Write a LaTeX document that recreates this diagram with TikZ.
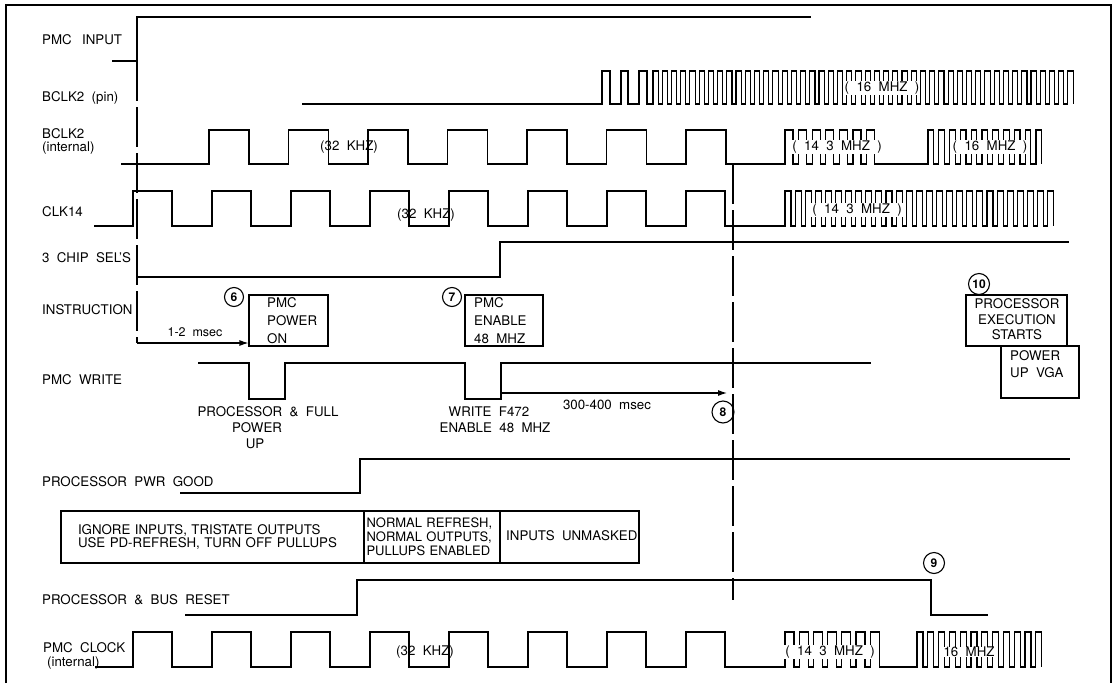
\documentclass[tikz,border=0pt]{standalone}
\usepackage{fontspec}
\setmainfont{TeX Gyre Heros}[WordSpace=2]
\usetikzlibrary{arrows.meta}
\newcommand{\pulsetrain}[6]{\foreach \k in {1,...,#3}{ -- ({#1+(\k-1)*#2},#5) -- ({#1+(\k-1)*#2},#6) -- ({#1+(\k-1)*#2+#4},#6) -- ({#1+(\k-1)*#2+#4},#5)}}
\begin{document}
\begin{tikzpicture}[x=1pt,y=-1pt,
  every node/.style={font=\fontsize{13.3}{14}\selectfont, inner sep=0pt},
  sig/.style={line width=1.1pt, line join=miter},
  frame/.style={line width=1.3pt},
  dashv/.style={line width=1.1pt, dash pattern=on 40pt off 6pt},
  lbl/.style={anchor=west},
  ptxt/.style={fill=white, inner xsep=1pt, inner ysep=0.5pt},
  num/.style={circle, draw, line width=1.1pt, minimum size=19pt, font=\fontsize{12}{12}\selectfont\bfseries},
  box/.style={draw, line width=1.1pt},
  arr/.style={line width=1.1pt, -{Latex[length=9pt,width=6pt]}}]
\useasboundingbox (0,0) rectangle (1116,683);
\fill[white] (0,0) rectangle (1116,683);
% frame
\draw[frame] (6,683) -- (6,5) -- (1111,5) -- (1111,683);

% labels
\node[lbl] (lPI) at (42,40) {PMC\hspace{3pt} INPUT};
\node[lbl] (lBP) at (42,98) {BCLK2 (pin)};
\node[lbl, align=left, font=\fontsize{13.3}{13}\selectfont] (lBI) at (42,141) {BCLK2\\(internal)};
\node[lbl] (lCK) at (42,212) {CLK14};
\node[lbl] (lCS) at (42,258) {3 CHIP SEL'S};
\node[lbl] (lIN) at (42,310) {INSTRUCTION};
\node[lbl] (lPW) at (42,380) {PMC WRITE};
\node[lbl] (lPG) at (42,482) {PROCESSOR PWR GOOD};
\node[lbl] (lBR) at (42,600) {PROCESSOR \& BUS RESET};
\node[lbl] (lPC) at (43,648) {PMC CLOCK};
\node[lbl] (lPCi) at (47,663) {(internal)};

% PMC INPUT
\draw[sig] (112,61) -- (137,61) -- (137,17) -- (811,17);
\coordinate (d1a) at (137,61);
\coordinate (d1b) at (137,343);
\draw[dashv] (d1a) -- (d1b);

% BCLK2 pin
\draw[sig] (302,104) -- (602,104) -- (602,71) -- (610,71) -- (610,104) -- (621,104) -- (621,71) -- (628,71) -- (628,104) -- (639,104) -- (639,71) -- (647,71) -- (647,104)
  \pulsetrain{653}{9.22}{46}{5.2}{104}{71};
\node[ptxt] (t16a) at (882,88) {( 16 MHZ )};

% BCLK2 internal
\draw[sig] (121,164) \pulsetrain{209}{79.5}{7}{40}{164}{130} -- (785,164)
  \pulsetrain{785}{13.6}{7}{8}{164}{130} -- (928,164)
  \pulsetrain{928}{10.8}{11}{5.6}{164}{130};
\node (t32a) at (349,147) {(32 KHZ)};
\node[ptxt] (t14a) at (837,147) {( 14 3 MHZ )};
\node[ptxt] (t16b) at (990,147) {( 16 MHZ )};

% CLK14
\draw[sig] (94,226) \pulsetrain{133}{79}{8}{39}{226}{191} -- (785,226)
  \pulsetrain{785}{10.1}{27}{6}{226}{191};
\node (t32b) at (426,215) {(32 KHZ)};
\node[ptxt] (t14b) at (857,210) {( 14 3 MHZ )};

% 3 CHIP SEL'S
\draw[sig] (137,277) -- (500,277) -- (500,242) -- (1069,242);

% second dashed line
\coordinate (d2a) at (733,164);
\coordinate (d2b) at (733,600);
\draw[dashv] (d2a) -- (d2b);

% INSTRUCTION boxes
\node[num] (n6) at (234,297) {6};
\node[box, minimum width=79pt, minimum height=51pt] (b6) at (288.5,320.5) {};
\node[anchor=west, align=left, font=\fontsize{13.3}{18}\selectfont] (b6t) at (267,321) {PMC\\POWER\\ON};
\node[num] (n7) at (452,297) {7};
\node[box, minimum width=78pt, minimum height=51pt] (b7) at (504,320.5) {};
\node[anchor=west, align=left, font=\fontsize{13.3}{18}\selectfont] (b7t) at (474,321) {PMC\\ENABLE\\48 MHZ};
\node[num, minimum size=21pt] (n10) at (979,284) {10};
\node[box, minimum width=101pt, minimum height=51pt] (b10) at (1016.5,320.5) {};
\node[align=center, font=\fontsize{13.3}{16}\selectfont] (b10t) at (1017,319) {PROCESSOR\\EXECUTION\\[-1.5pt]STARTS};
\node[box, minimum width=78pt, minimum height=52pt] (bvga) at (1040,372) {};
\node[anchor=north west, align=left, font=\fontsize{13.3}{17}\selectfont] (bvgat) at (1010,350) {POWER\\UP VGA};

% 1-2 msec
\draw[arr] (d1b) -- (d1b -| b6.west);
\node[font=\fontsize{12.5}{12}\selectfont] (t12) at (195,332) {1-2 msec};

% PMC WRITE
\draw[sig] (198,363) -- (249,363) -- (249,399) -- (285,399) -- (285,363) -- (465,363) -- (465,399) -- (501,399) -- (501,363) -- (871,363);
\coordinate (a2s) at (501,393);
\coordinate (a2e) at (727,393);
\draw[arr] (a2s) -- (a2e);
\node (t300) at (607,405) {300-400 msec};
\node[num, minimum size=22pt] (n8) at (723,412) {8};
\node (tpf1) at (268,412) {PROCESSOR \& FULL};
\node (tpf2) at (257,428) {POWER};
\node (tpf3) at (255,444) {UP};
\node (tw1) at (489,412) {WRITE F472};
\node (tw2) at (495,428) {ENABLE 48 MHZ};

% PROCESSOR PWR GOOD
\draw[sig] (180,493) -- (360,493) -- (360,459) -- (1070,459);

% state boxes
\node[box, minimum width=303pt, minimum height=52pt, text width=269pt, inner xsep=17pt, align=left, font=\fontsize{13.3}{12.5}\selectfont] (s1) at (212.5,537) {IGNORE INPUTS, TRISTATE OUTPUTS\\USE PD-REFRESH, TURN OFF PULLUPS};
\node[box, minimum width=136pt, minimum height=52pt, text width=131pt, inner xsep=2.5pt, align=left, font=\fontsize{13}{14}\selectfont] (s2) at (432,537) {NORMAL REFRESH,\\NORMAL OUTPUTS,\\PULLUPS ENABLED};
\node[box, minimum width=139pt, minimum height=52pt] (s3) at (569.5,537) {};
\node[anchor=west] (s3t) at (506,536) {INPUTS UNMASKED};

% PROCESSOR & BUS RESET
\draw[sig] (185,615) -- (357,615) -- (357,580) -- (931,580) -- (931,615) -- (988,615);
\node[num, minimum size=21pt] (n9) at (934,563) {9};

% PMC CLOCK
\draw[sig] (95,667) \pulsetrain{133}{79}{8}{39}{667}{632} -- (785,667)
  \pulsetrain{785}{14.2}{7}{9}{667}{632} -- (917,667)
  \pulsetrain{917}{10.8}{12}{6}{667}{632};
\node (t32c) at (425,652) {(32 KHZ)};
\node[ptxt] (t14c) at (830,652) {( 14 3 MHZ )};
\node[ptxt] (t16c) at (969,652) {16 MHZ};
\end{tikzpicture}
\end{document}
